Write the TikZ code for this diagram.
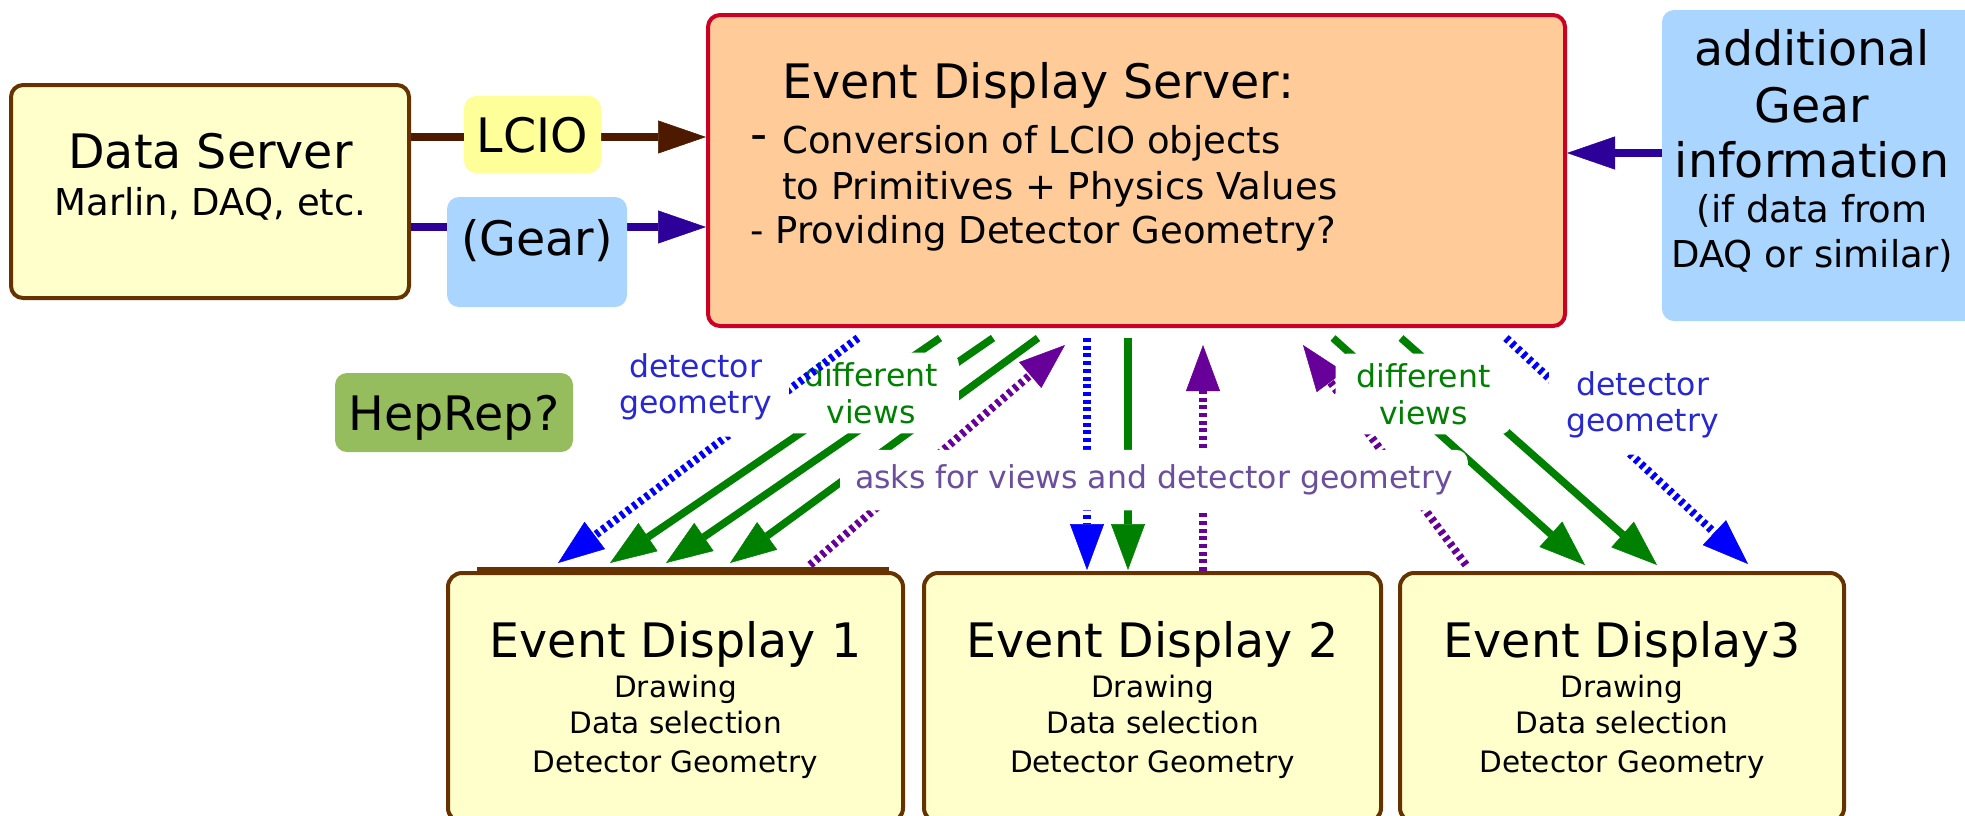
\documentclass[tikz,border=0pt]{standalone}
\usepackage{fontspec}
\setmainfont{DejaVu Sans}
\usetikzlibrary{arrows.meta}
\definecolor{boxbrown}{HTML}{663300}
\definecolor{paleyellow}{HTML}{FFFFCC}
\definecolor{lcioyellow}{HTML}{FFFF99}
\definecolor{gearblue}{HTML}{AAD5FF}
\definecolor{peach}{HTML}{FFCC99}
\definecolor{srvred}{HTML}{CC0022}
\definecolor{lciobrown}{HTML}{4D1A00}
\definecolor{gearindigo}{HTML}{2C0099}
\definecolor{hepgreen}{HTML}{95BD5E}
\definecolor{viewgreen}{HTML}{008000}
\definecolor{geoblue}{HTML}{0000FF}
\definecolor{askpurple}{HTML}{660099}
\definecolor{geotext}{HTML}{2828D2}
\definecolor{asktext}{HTML}{6B4E9E}
\newcommand{\bigtxt}{\fontsize{47.5}{57}\selectfont}
\newcommand{\midtxt}{\fontsize{37}{45}\selectfont}
\newcommand{\smalltxt}{\fontsize{29.5}{36}\selectfont}
\newcommand{\labeltxt}{\fontsize{31.5}{36.5}\selectfont}
\tikzstyle{txt} = [inner sep=0pt]
\tikzstyle{databox} = [rectangle, rounded corners=12pt, draw=boxbrown, line width=4pt, fill=paleyellow]
\tikzstyle{srvbox} = [rectangle, rounded corners=12pt, draw=srvred, line width=4pt, fill=peach]
\tikzstyle{tag} = [rectangle, rounded corners=12pt, inner sep=0pt]
\tikzstyle{captxt} = [text height=35pt, text depth=0pt, font=\bigtxt]
\tikzstyle{flow} = [line width=8pt, -{Triangle[length=48pt,width=33pt,line width=0.5pt]}]
\tikzstyle{viewarrow} = [viewgreen, line width=7.5pt, -{Triangle[length=46pt,width=34pt,line width=0.5pt]}]
\tikzstyle{geoarrow} = [geoblue, line width=8pt, dash pattern=on 4pt off 3.7pt, -{Triangle[length=46pt,width=34pt,line width=0.5pt]}]
\tikzstyle{askarrow} = [askpurple, line width=8pt, dash pattern=on 4pt off 3.7pt, -{Triangle[length=46pt,width=34pt,line width=0.5pt]}]
\tikzstyle{cutlabel} = [fill=white, rounded corners=12pt, align=center, font=\labeltxt]
\begin{document}
\begin{tikzpicture}[x=1pt,y=-1pt]
\useasboundingbox (0,0) rectangle (1965,815);
\clip (0,0) rectangle (1965,815);

% data server
\node[databox, minimum width=398pt, minimum height=213pt] (ds) at (210,191.5) {};
\node[txt, anchor=base, font=\bigtxt] (dsname) at (210.5,168) {Data Server};
\node[txt, anchor=base, font=\midtxt] (dssub) at (210.5,215) {Marlin, DAQ, etc.};

% event display server
\node[srvbox, minimum width=857pt, minimum height=311pt] (srv) at (1136.5,170.5) {};
\node[txt, anchor=base west, font=\bigtxt] (srvname) at (782,98) {Event Display Server:};
\node[txt, anchor=base west, font=\midtxt] (srvl1) at (750,153) {\makebox[32pt][l]{\bigtxt\raisebox{3pt}{-}}Conversion of LCIO objects};
\node[txt, anchor=base west, font=\midtxt] (srvl2) at (782,199) {to Primitives + Physics Values};
\node[txt, anchor=base west, font=\midtxt] (srvl3) at (750,243) {- Providing Detector Geometry?};

% additional gear information
\node[tag, fill=gearblue, minimum width=330pt, minimum height=311pt] (gi) at (1827,165.5) {};
\foreach \t/\y/\f/\k in {additional/65/\bigtxt/1, Gear/122/\bigtxt/2, information/177/\bigtxt/3,
    {(if data from}/222/\midtxt/4, {DAQ or similar)}/267/\midtxt/5}
  \node[txt, anchor=base, font=\f] (gi\k) at (1812,\y) {\t};

% event displays
\foreach \n/\x/\w/\t in {ed1/675.5/455/Event Display 1, ed2/1152.5/457/Event Display 2, ed3/1622/444/Event Display3}{
  \node[databox, rounded corners=14pt, minimum width=\w pt, minimum height=249pt] (\n) at (\x,697.5) {};
  \node[txt, anchor=base, font=\bigtxt] (t\n) at (\x,657) {\t};
  \foreach \s/\y/\k in {Drawing/697/a, Data selection/733/b, Detector Geometry/772/c}
    \node[txt, anchor=base, font=\smalltxt] (\n\k) at (\x,\y) {\s};
}
\draw[boxbrown, line width=4pt] ([xshift=31pt,yshift=2pt]ed1.north west) -- ([xshift=-16pt,yshift=2pt]ed1.north east);

\node[tag, captxt, fill=hepgreen, minimum width=238pt, minimum height=79pt] (hep) at (454,412.5) {HepRep?};

% inputs of the server
\draw[flow, lciobrown] ([yshift=54.5pt]ds.east) -- ([yshift=54.5pt]ds.east -| srv.west);
\draw[flow, gearindigo] ([yshift=-35.5pt]ds.east) -- ([yshift=-35.5pt]ds.east -| srv.west);
\draw[flow, gearindigo] ([yshift=17.5pt]srv.east -| gi.west) -- ([yshift=17.5pt]srv.east);
\node[tag, captxt, fill=lcioyellow, minimum width=137pt, minimum height=77pt] (lcio) at (532.5,134.5) {LCIO};
\node[tag, captxt, text depth=28pt, fill=gearblue, minimum width=180pt, minimum height=110pt] (gear) at (537,252) {(Gear)};

% views
\foreach \a/\b in {234/164, 287/220, 332/284}
  \draw[viewarrow] ([xshift=\a pt,yshift=-10pt]srv.south west) -- ([xshift=\b pt,yshift=8pt]ed1.north west);
\draw[viewarrow] ([xshift=422pt,yshift=-10pt]srv.south west) -- ([xshift=206pt,yshift=1pt]ed2.north west);
\foreach \a/\b in {627/187, 695/259}
  \draw[viewarrow] ([xshift=\a pt,yshift=-10pt]srv.south west) -- ([xshift=\b pt,yshift=6pt]ed3.north west);
\draw[askarrow] ([xshift=68pt,yshift=6pt]ed3.north west) -- ([xshift=597pt,yshift=-17pt]srv.south west);

\node[cutlabel, text=viewgreen, inner xsep=21pt, inner ysep=10pt] (views1) at (871,393) {different\\views};
\node[cutlabel, text=viewgreen, inner xsep=21pt, inner ysep=10pt] (views2) at (1423.5,394) {different\\views};

% geometry and requests
\draw[geoarrow] ([xshift=152pt,yshift=-10pt]srv.south west) -- ([xshift=112pt,yshift=8pt]ed1.north west);
\draw[geoarrow] ([xshift=381pt,yshift=-10pt]srv.south west) -- ([xshift=165pt,yshift=1pt]ed2.north west);
\draw[geoarrow] ([xshift=800pt,yshift=-10pt]srv.south west) -- ([xshift=350pt,yshift=7pt]ed3.north west);
\draw[askarrow] ([xshift=364pt,yshift=6pt]ed1.north west) -- ([xshift=359pt,yshift=-17pt]srv.south west);
\draw[askarrow] ([xshift=281pt]ed2.north west) -- ([xshift=497pt,yshift=-17pt]srv.south west);

\node[cutlabel, text=geotext, inner xsep=17pt, inner ysep=16pt] (geo1) at (695.5,387) {detector\\geometry};
\node[cutlabel, text=geotext, inner xsep=17pt, inner ysep=16pt] (geo2) at (1642.5,405) {detector\\geometry};
\node[cutlabel, text=asktext, inner sep=15pt] (asks) at (1154,480) {asks for views and detector geometry};
\end{tikzpicture}
\end{document}
